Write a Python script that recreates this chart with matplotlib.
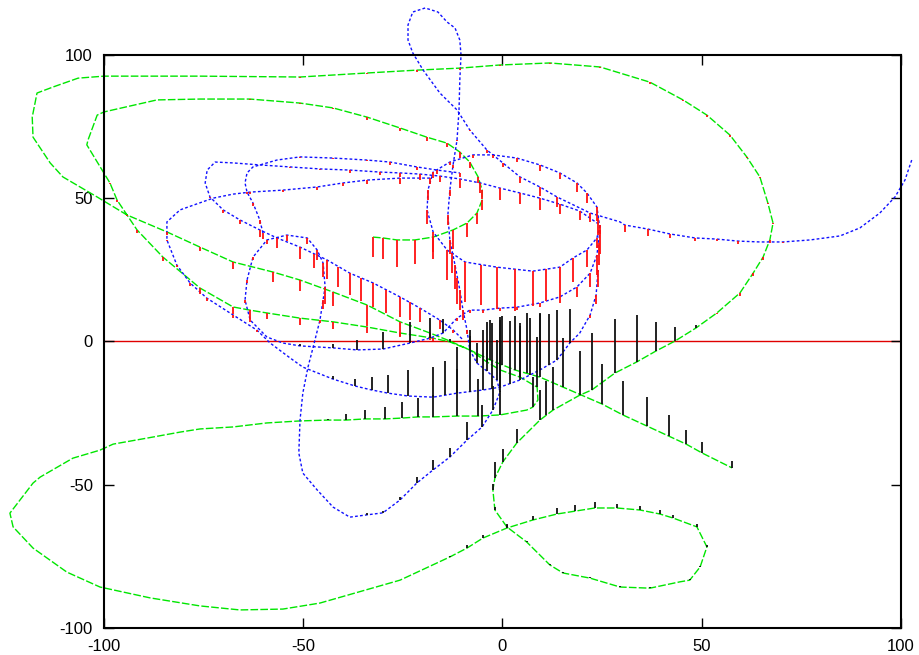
import numpy as np
import matplotlib
matplotlib.use('Agg')
import matplotlib.pyplot as plt

plt.rcParams['font.family'] = ['Liberation Sans', 'DejaVu Sans']
plt.rcParams['axes.unicode_minus'] = False

# green trajectory: position and impulse height at each sample (0 = no impulse)
green_x = [-32.5, -30.0, -26.5, -22.0, -17.4, -12.4, -8.9, -6.4, -5.1, -5.1,
           -6.1, -8.2, -10.7, -13.9, -19.0, -25.7, -34.0, -42.5, -50.8, -63.4,
           -75.9, -86.7, -100.0, -101.7, -104.0, -104.3, -98.5, -96.7, -91.7, -85.2,
           -75.9, -67.6, -63.4, -59.1, -50.8, -42.5, -34.0, -25.7, -17.4, -13.2,
           -8.2, -3.9, -0.6, 4.4, 8.7, 8.9, 7.6, 6.1, -0.6, -6.1,
           -11.4, -17.4, -21.2, -25.2, -29.5, -34.5, -39.3, -43.8, -50.8, -59.1,
           -67.6, -75.9, -80.9, -89.2, -97.7, -101.0, -107.8, -116.0, -117.8, -123.6,
           -122.8, -117.8, -109.3, -101.0, -88.4, -75.9, -65.9, -55.1, -45.8, -25.7,
           -13.2, -8.9, -4.9, 1.1, 7.6, 13.7, 18.2, 23.2, 28.7, 34.5,
           39.5, 42.8, 48.8, 51.3, 49.6, 47.0, 44.5, 37.0, 29.5, 22.0,
           15.2, 11.9, 6.1, 1.1, -1.9, -2.4, -1.9, 0.1, 3.6, 9.4,
           12.7, 19.4, 22.4, 28.2, 33.7, 38.5, 43.3, 48.5, 53.8, 59.6,
           62.9, 65.4, 67.1, 67.9, 66.6, 64.6, 61.3, 57.1, 51.3, 45.3,
           37.0, 24.5, 11.9, -0.6, -10.7, -21.5, -34.0, -50.8, -75.9, -100.0,
           -106.5, -112.8, -116.8, -118.0, -117.8, -113.5, -110.3, -101.7, -94.2, -84.2,
           -75.9, -67.6, -57.6, -50.8, -42.5, -34.0, -25.7, -18.2, -13.9, -8.2,
           -3.1, 3.1, 9.4, 15.2, 25.0, 30.2, 36.3, 41.8, 46.1, 50.1,
           57.6]
green_y = [36.4, 36.1, 35.4, 35.4, 36.4, 38.9, 41.3, 44.8, 49.3, 52.8,
           57.4, 62.6, 66.1, 69.2, 71.3, 74.5, 78.3, 81.5, 83.2, 84.6,
           84.6, 84.3, 80.1, 79.0, 70.3, 68.6, 55.3, 49.3, 38.9, 29.4,
           18.6, 12.0, 10.9, 9.9, 8.1, 6.8, 5.0, 2.9, 1.1, -0.2,
           -3.0, -7.2, -10.0, -12.5, -16.0, -20.5, -23.0, -24.0, -25.7, -26.1,
           -26.1, -26.4, -26.4, -26.8, -27.1, -27.1, -27.5, -27.5, -27.8, -28.5,
           -29.9, -30.6, -31.7, -33.8, -35.9, -38.0, -40.8, -47.4, -49.5, -60.0,
           -64.8, -72.2, -80.6, -85.8, -89.6, -92.4, -93.8, -93.5, -91.4, -83.4,
           -75.3, -72.2, -68.7, -65.2, -62.4, -60.3, -59.3, -58.2, -58.2, -58.9,
           -60.3, -61.7, -64.8, -71.8, -78.8, -83.4, -84.0, -86.2, -85.8, -82.7,
           -80.9, -78.1, -70.1, -64.8, -58.9, -51.9, -47.7, -42.1, -35.5, -27.5,
           -24.0, -18.8, -17.0, -11.1, -7.2, -3.4, 0.1, 4.6, 9.9, 16.9,
           23.8, 29.4, 35.4, 41.3, 48.3, 57.4, 64.4, 72.0, 79.0, 84.3,
           90.5, 95.8, 97.2, 96.5, 95.4, 94.7, 93.7, 92.3, 92.6, 92.6,
           91.9, 88.8, 86.7, 78.3, 71.3, 62.3, 57.4, 50.4, 44.1, 38.2,
           32.9, 27.7, 24.2, 21.4, 17.2, 12.7, 6.8, 2.9, 0.5, -3.0,
           -6.5, -10.0, -12.5, -16.0, -21.9, -25.7, -29.6, -33.1, -35.9, -39.0,
           -44.2]
green_h = [-7, -7.5, -9.5, -8.5, -7.5, -6.5, -5, -4, -3.5, -3,
           -2, -2, -2, -1.5, -1.5, -1, -1, -0.5, -0.5, -0.5,
           0, 0, 0, 0, 0, 0, -0.5, -0.5, -1, -1.5,
           -2, -2.5, -3.5, -2, -2.5, -2.5, -2, -1.5, -1, 1,
           5, 14, 17.5, 19, 17.5, 0, 10.5, 0, 8.5, 13,
           16.5, 7.5, 6.5, 5.5, 4, 3, 2, 0.5, 0, 0,
           0, 0, 0, 0, 0, 0, 0, 0, 0, 0,
           0, 0, 0, 0, 0, 0, 0, 0, 0, 0,
           0.5, 1, 1, 1, 1.5, 2, 2, 2, 1.5, 1.5,
           1.5, 1, 1, 0.5, 0.5, 0.5, 0, 0.5, 0.5, 0.5,
           0.5, 0.5, 0.5, 1, 1, 2, 5.5, 4.5, 5, 10.5,
           15, 15.5, 20, 19, 16.5, 10, 5, 1, -0.5, -1,
           -1, -1, -1, -0.5, -0.5, -0.5, -0.5, -0.5, -0.5, -0.5,
           -0.5, -0.5, -0.5, -0.5, -0.5, -0.5, -0.5, -0.5, 0, 0,
           0, 0, 0, 0, 0, 0, 0, 0, -0.5, -1,
           -1.5, -2.5, -3.5, -4, -5, -7.5, -5, -2.5, 0, 7,
           14, 19, 22, 17, 14, 12, 10, 7.5, 5, 4,
           2.5]

# blue trajectory, main path
blue_x = [102.7, 101.0, 98.5, 94.7, 89.7, 84.7, 77.2, 70.4, 64.6, 59.1,
          53.8, 48.3, 42.0, 36.5, 30.7, 29.5, 22.0, 13.7, 9.4, 4.4,
          0.1, -3.9, -8.2, -11.4, -15.7, -19.9, -22.5, -23.7, -23.7, -22.5,
          -19.4, -16.2, -13.9, -11.9, -10.7, -10.4, -10.7, -10.9, -11.4, -12.4,
          -13.2, -13.7, -13.2, -11.9, -10.7, -9.9, -8.9, -8.2, -6.4, -3.9,
          -1.4, -0.6, -2.4, -5.1, -8.9, -13.2, -17.4, -21.5, -25.7, -30.0,
          -34.0, -38.3, -42.5, -46.5, -50.1, -51.1, -50.8, -50.1, -48.8, -47.5,
          -45.8, -45.0, -44.5, -45.0, -46.5, -49.0, -54.1, -59.1, -62.6, -64.1,
          -64.6, -63.3, -59.1, -55.1, -50.8, -42.5, -36.5, -30.0, -23.2, -18.2,
          -14.9, -11.4, -8.2, -4.9, -0.6, 3.6, 9.4, 14.4, 18.7, 22.0,
          23.7, 24.5, 23.7, 21.2, 18.7, 14.4, 9.4, 3.6, -2.4, -7.4,
          -13.2, -17.4, -18.7, -18.9, -17.4, -13.9, -9.4, -1.4, 7.6, 14.4,
          17.7, 21.2, 23.7, 24.5, 19.4, 14.4, 9.4, 4.4, -0.6, -5.6,
          -10.7, -15.7, -20.7, -25.7, -30.7, -38.3, -45.8, -53.3, -60.9, -67.6,
          -72.1, -74.1, -74.6, -73.4, -70.1, -65.9, -60.9, -56.6, -50.8, -44.0,
          -38.3, -32.5, -25.7, -20.7, -15.7, -12.4, -9.9]
blue_y = [63.3, 56.3, 50.4, 44.8, 39.6, 36.8, 35.4, 34.7, 34.7, 35.0,
          35.7, 36.1, 37.5, 39.2, 40.6, 41.7, 44.8, 50.4, 53.9, 57.4,
          62.3, 66.8, 73.8, 80.8, 86.7, 94.7, 100.7, 105.2, 110.5, 115.0,
          116.4, 115.0, 111.5, 109.4, 105.2, 100.0, 91.3, 80.8, 70.3, 61.6,
          52.8, 44.1, 35.4, 26.6, 17.9, 10.9, 4.0, -3.0, -7.6, -10.4,
          -13.5, -17.7, -24.0, -29.9, -34.5, -40.4, -44.9, -49.5, -55.4, -59.9,
          -60.6, -61.4, -57.9, -51.9, -46.0, -39.0, -27.5, -18.1, -9.0, -2.0,
          7.4, 14.4, 19.0, 27.3, 31.9, 36.1, 37.1, 35.4, 29.4, 21.4,
          14.4, 7.4, 1.5, -0.6, -1.6, -2.3, -3.0, -2.7, -0.6, 1.1,
          2.9, 8.1, 10.9, 10.9, 11.6, 11.9, 13.4, 15.5, 19.0, 23.8,
          30.1, 38.9, 46.9, 51.8, 55.3, 58.8, 61.6, 64.0, 65.1, 65.1,
          62.6, 59.1, 52.8, 45.8, 38.2, 31.9, 27.7, 25.9, 24.5, 25.9,
          29.1, 31.9, 36.1, 40.6, 45.5, 47.9, 50.0, 51.8, 53.5, 55.3,
          56.7, 57.7, 58.4, 58.8, 59.1, 59.8, 60.2, 60.9, 61.6, 62.3,
          62.6, 59.8, 55.3, 50.4, 45.9, 42.4, 38.9, 36.1, 32.9, 28.4,
          23.8, 20.4, 15.5, 11.6, 7.4, 4.0, 0.5]
blue_h = [0, 0, 0, 0, 0, 0, 0, -0.5, 0, -1,
          -0.5, -1, -1.5, -2.5, -2.5, 0, -3, -3.5, -3, -2,
          -1.5, -1, -0.5, 0, 0, 0, 0, 0, 0, 0,
          0, 0, 0, 0, 0, 0, 0, 0, -0.5, -1,
          -2, -3.5, -5, -8.5, -7, -3.5, -1.5, 3.5, 7, 10.5,
          14, 10.5, 8.5, 7.5, 6.5, 3, 3.5, 2, 1, 0.5,
          0.5, 0, 0, 0, 0, 0, 0, 0, 0, 0,
          -1, -3, -6, -5, -3.5, -2, -2, -1.5, -1, -1,
          -1, -0.5, 0, 0, 0.5, 1.5, 3.5, 6, 7.5, 7,
          5, -1, -1, -1, -1, -1, -1.5, -2, -3.5, -5,
          -7, -8.5, -5, -3.5, -3, -2, -2, -1.5, -1, -1,
          -1, -2, -3.5, -5, -7, -10.5, -14, -14.5, -12, -10.5,
          -8.5, -6, -3.5, -3, -3, -3.5, -4, -4, -4, -3.5,
          -3, -2, -2, -1.5, -1, -1, -0.5, -0.5, 0, 0,
          0, 0, 0, -0.5, -1, -1.5, -2.5, -3.5, -4, -6.5,
          -7.5, -8.5, -7, -5, -3, -1, 0]

# blue trajectory, left sweep
blue2_x = [-18.2, -25.7, -34.0, -40.0, -46.5, -55.1, -63.4, -67.6, -72.6, -80.9,
           -84.2, -84.2, -81.7, -78.4, -74.2, -67.6, -61.6, -58.3, -53.3, -50.1,
           -42.5, -37.0, -32.8, -28.7, -23.7, -17.4, -11.4, -4.9, -0.6, 4.4,
           9.4, 13.7, 16.9, 19.4, 22.0, 23.5, 24.0]
blue2_y = [57.0, 57.0, 56.3, 55.3, 53.9, 52.8, 52.1, 51.4, 50.0, 45.9,
           41.7, 35.4, 26.6, 20.4, 15.1, 9.2, 3.9, -0.6, -5.8, -9.0,
           -13.2, -15.6, -17.0, -18.1, -19.1, -19.5, -18.1, -17.0, -16.0, -13.5,
           -10.0, -6.5, -0.6, 2.9, 9.2, 16.2, 24.9]
blue2_h = [-2, -2, -1.5, -1, -1, -0.5, -0.5, 0, 0, 0,
           0, -0.5, -0.5, -1, -1, -1, -0.5, 0, 0, 0,
           1, 2.5, 4.5, 6.5, 9, 10.5, 16, 21, 24.5, 19,
           20, 17.5, 12, 0, -1, -3, -6]

# blue trajectory, small upper-left loop
blue3_x = [-60.1, -60.9, -62.6, -64.1, -64.6, -64.1, -62.6, -56.6, -50.8, -42.5,
           -34.0, -28.2, -21.5, -16.4, -10.7]
blue3_y = [37.8, 42.4, 48.3, 52.1, 55.3, 58.8, 60.9, 63.3, 64.4, 64.0,
           63.3, 62.6, 60.9, 59.8, 58.8]
blue3_h = [-2, -1.5, -1, -0.5, 0, 0, 0, 0, -0.5, -0.5,
           -0.5, -1, -1, -1.5, -1.5]

# samples between the vertices above that also carry an impulse
extra_x = [-14.4, -8.2, -2.7, 1.9, 6.9, 11.6, 0.0, 6.2, 11.0,
           -5.4, 3.1, 11.0, -12.6, -11.3,
           -47.4, -41.2, -35.4, -29.1, -23.2, 24.2, 24.1]
extra_y = [-18.8, -17.6, -16.5, -14.8, -11.8, -8.3, -8.2, -11.2, -25.8,
           26.8, 25.2, 25.2, 31.0, 22.2,
           30.6, 26.1, 22.1, 18.0, 13.6, 34.5, 43.0]
extra_h = [12, 18, 23, 22, 20, 18, 17, 21, 12,
           -14, -14.5, -11, -7, -9,
           -5, -7, -8, -8, -6, -8, -6]

ticks = [-100, -50, 0, 50, 100]

fig = plt.figure(figsize=(9.2, 6.55), dpi=100)
ax = fig.add_axes([0.113, 0.0417, 0.8663, 0.8744])
ax.set_xlim(-100, 100)
ax.set_ylim(-100, 100)

ax.axhline(0, color='#e00000', lw=1.0, zorder=1)


def impulses(xs, ys, hs):
    x = np.array(xs)
    y = np.array(ys)
    h = np.array(hs, dtype=float)
    down = h < 0
    up = h > 0
    ax.vlines(x[down], y[down] + h[down], y[down], colors='#ff1010',
              lw=1.3, zorder=3, clip_on=False)
    ax.vlines(x[up], y[up], y[up] + h[up], colors='#111111',
              lw=1.3, zorder=3, clip_on=False)


ax.plot(green_x, green_y, color='#00e600', lw=1.0, dashes=(5.5, 1.6),
        zorder=2, clip_on=False)
for bx, by in [(blue_x, blue_y), (blue2_x, blue2_y), (blue3_x, blue3_y)]:
    ax.plot(bx, by, color='#1010ff', lw=1.0, dashes=(2.0, 1.6),
            zorder=2, clip_on=False)

impulses(green_x, green_y, green_h)
impulses(blue_x, blue_y, blue_h)
impulses(blue2_x, blue2_y, blue2_h)
impulses(blue3_x, blue3_y, blue3_h)
impulses(extra_x, extra_y, extra_h)

ax.set_xticks(ticks)
ax.set_yticks(ticks)
ax.tick_params(direction='in', length=7, width=1, top=True, right=True,
               labelsize=12, pad=8)
for s in ax.spines.values():
    s.set_linewidth(1.5)

fig.savefig('out.png', dpi=100)
